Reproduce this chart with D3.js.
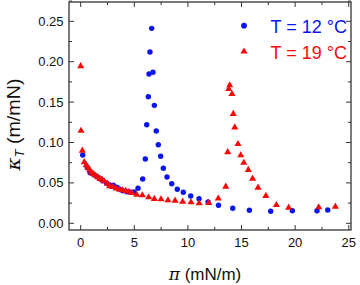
<!DOCTYPE html>
<html><head><meta charset="utf-8">
<script src="https://cdn.jsdelivr.net/npm/d3@7"></script>
<style>body{margin:0;background:#fff}svg{display:block}</style>
</head><body>
<svg id="c" width="360" height="285"></svg>
<script>
// Data
const blueX = [0.19,0.62,0.87,1.18,1.49,1.74,2.05,2.43,2.67,3.04,3.36,3.6,3.92,4.29,4.66,4.97,5.35,5.78,6.03,6.16,6.31,6.37,6.46,6.62,6.74,6.87,7.05,7.24,7.46,7.71,8.05,8.49,9.01,9.57,10.26,11.04,11.88,12.85,14.18,15.73,17.72,19.74,22.04,23.04];
const blueY = [0.0845,0.0688,0.0626,0.0606,0.0581,0.0557,0.0527,0.0495,0.0478,0.047,0.0446,0.0424,0.0403,0.0391,0.0384,0.0387,0.0433,0.0548,0.0796,0.122,0.1567,0.1848,0.212,0.2413,0.1869,0.146,0.1142,0.0973,0.0829,0.0681,0.0573,0.049,0.0421,0.0384,0.0338,0.0304,0.0264,0.0224,0.0187,0.0161,0.0149,0.0156,0.0156,0.0165];
const redX = [0.0,0.03,0.15,0.33,0.52,0.68,0.85,1.0,1.2,1.4,1.6,1.8,2.0,2.2,2.5,2.7,3.0,3.3,3.6,3.9,4.2,4.5,4.76,5.22,5.75,6.34,6.87,7.49,8.14,8.8,9.51,10.29,11.04,11.94,12.83,13.53,13.71,13.81,13.9,14.11,14.23,14.37,14.67,14.93,15.21,15.63,16.03,16.54,17.27,18.25,19.4,22.2,23.75];
const redY = [0.1944,0.1145,0.0899,0.0756,0.0719,0.0688,0.066,0.063,0.061,0.059,0.057,0.055,0.054,0.052,0.049,0.046,0.045,0.043,0.042,0.041,0.040,0.039,0.0375,0.0354,0.0347,0.0322,0.0301,0.0297,0.0285,0.028,0.0267,0.026,0.0248,0.0251,0.0307,0.0453,0.088,0.1662,0.1708,0.16,0.1353,0.1186,0.0981,0.0842,0.0749,0.066,0.0552,0.0441,0.0338,0.0226,0.0193,0.0198,0.0205];
const xTicks = [0,5,10,15,20,25];
const yTicks = [0.00,0.05,0.10,0.15,0.20,0.25];
const legendLabels = ["T = 12 \u00B0C","T = 19 \u00B0C"];

const svg = d3.select("#c");
const L=69, R=351, T=2, B=230;
const x = d3.scaleLinear().domain([-1.09,25.21]).range([L,R]);
const y = d3.scaleLinear().domain([-0.0083,0.2739]).range([B,T]);
const font = "Arial, 'Liberation Sans', sans-serif";
const axisCol = "#333";

// ticks
const xMinor = d3.range(0,25.01,2.5);
const yMinor = d3.range(0,0.2751,0.025);
const tg = svg.append("g").attr("stroke",axisCol).attr("stroke-width",1);
xMinor.forEach(v=>{
  const major = Math.abs(v/5-Math.round(v/5))<1e-6;
  const len = major?5:3;
  tg.append("line").attr("x1",x(v)).attr("x2",x(v)).attr("y1",B).attr("y2",B-len);
  tg.append("line").attr("x1",x(v)).attr("x2",x(v)).attr("y1",T).attr("y2",T+len);
});
yMinor.forEach(v=>{
  const major = Math.abs(v/0.05-Math.round(v/0.05))<1e-6;
  const len = major?5:3;
  tg.append("line").attr("y1",y(v)).attr("y2",y(v)).attr("x1",L).attr("x2",L+len);
  tg.append("line").attr("y1",y(v)).attr("y2",y(v)).attr("x1",R).attr("x2",R-len);
});
svg.append("rect").attr("x",L).attr("y",T).attr("width",R-L).attr("height",B-T)
  .attr("fill","none").attr("stroke",axisCol).attr("stroke-width",1.3);

// tick labels
svg.append("g").selectAll("text").data(xTicks).join("text")
  .attr("x",d=>x(d)).attr("y",247).attr("text-anchor","middle")
  .attr("font-family",font).attr("font-size",13).attr("fill","#111").text(d=>d);
svg.append("g").selectAll("text").data(yTicks).join("text")
  .attr("x",63.5).attr("y",d=>y(d)+4.6).attr("text-anchor","end")
  .attr("font-family",font).attr("font-size",13).attr("fill","#111").text(d=>d.toFixed(2));

// axis titles
const xt = svg.append("text").attr("x",205).attr("y",280).attr("text-anchor","middle")
  .attr("font-family",font).attr("font-size",17).attr("fill","#111");
xt.append("tspan").attr("font-family","'DejaVu Serif','Liberation Serif',serif").attr("font-style","italic").text("\u03C0");
xt.append("tspan").text(" (mN/m)");
const yt = svg.append("text").attr("transform","translate(20,124.5) rotate(-90)").attr("text-anchor","middle")
  .attr("font-family",font).attr("font-size",18).attr("fill","#111")
  .attr("textLength",92).attr("lengthAdjust","spacingAndGlyphs");
yt.append("tspan").attr("font-family","'DejaVu Serif','Liberation Serif',serif").attr("font-style","italic").text("\u03BA");
yt.append("tspan").attr("font-size",12).attr("font-style","italic").attr("dy",4).text("T");
yt.append("tspan").attr("dy",-4).text(" (m/mN)");

// marks
const blue = "#0a14f0", red = "#f50a0a";
const tri = d3.symbol().type(d3.symbolTriangle).size(22);
svg.append("g").selectAll("circle").data(blueX.map((v,i)=>[v,blueY[i]])).join("circle")
  .attr("cx",d=>x(d[0])).attr("cy",d=>y(d[1])).attr("r",2.7).attr("fill",blue);
svg.append("g").selectAll("path").data(redX.map((v,i)=>[v,redY[i]])).join("path")
  .attr("d",tri).attr("transform",d=>`translate(${x(d[0])},${y(d[1])})`).attr("fill",red);

// legend
svg.append("circle").attr("cx",244).attr("cy",25.7).attr("r",2.9).attr("fill",blue);
svg.append("path").attr("d",tri).attr("transform","translate(244,51.5)").attr("fill",red);
svg.append("text").attr("x",270.5).attr("y",32.5).attr("font-family",font).attr("font-size",18).attr("fill",blue).text(legendLabels[0]);
svg.append("text").attr("x",270.5).attr("y",59.3).attr("font-family",font).attr("font-size",18).attr("fill",red).text(legendLabels[1]);
</script>
</body></html>
